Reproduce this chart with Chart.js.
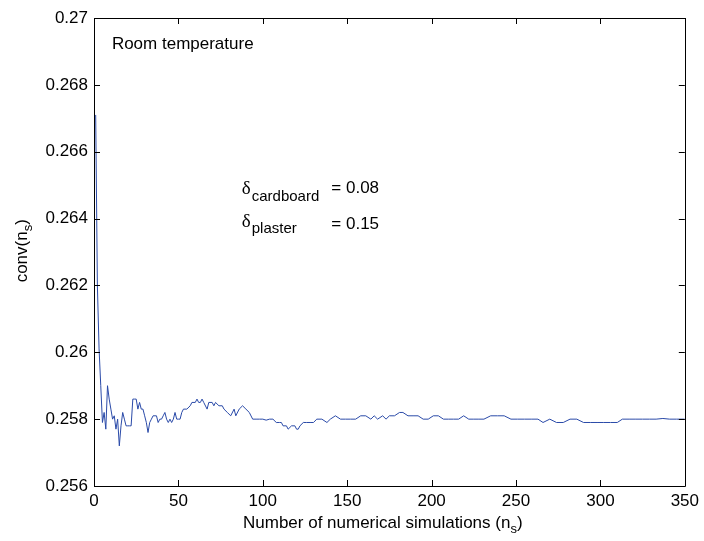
<!DOCTYPE html>
<html>
<head>
<meta charset="utf-8">
<script src="https://cdn.jsdelivr.net/npm/chart.js@4.4.0/dist/chart.umd.min.js"></script>
<style>
  html, body { margin: 0; padding: 0; background: #fff; }
  #wrap { width: 704px; height: 541px; }
</style>
</head>
<body>
<div id="wrap"><canvas id="chart" width="704" height="541"></canvas></div>
<script>
// number of simulations (x) and convergence value (y)
const simCounts = [
  1, 2, 3, 4, 5, 6, 7, 8, 9, 10, 11, 12, 13, 14, 15, 16, 17, 18, 19, 20,
  21, 22, 23, 24, 25, 26, 27, 28, 29, 30, 31, 32, 33, 34, 35, 37, 38, 39, 40, 41,
  42, 43, 44, 45, 46, 47, 48, 49, 50, 51, 52, 53, 55, 57, 58, 60, 61, 62, 63, 64,
  65, 67, 68, 70, 71, 72, 74, 76, 77, 79, 81, 83, 84, 86, 88, 90, 92, 94, 96, 98,
  100, 102, 104, 106, 108, 110, 111, 112, 114, 115, 117, 119, 120, 121, 122, 124, 126, 128, 130, 132,
  135, 138, 140, 143, 146, 149, 152, 155, 158, 161, 164, 166, 168, 171, 173, 175, 178, 181, 183, 186,
  189, 192, 195, 198, 201, 204, 207, 210, 213, 216, 219, 222, 225, 228, 231, 235, 239, 243, 247, 251,
  255, 259, 263, 266, 270, 274, 278, 282, 286, 290, 294, 298, 302, 306, 310, 313, 317, 321, 325, 329,
  333, 337, 341, 345, 350
];
const convValues = [
  0.2671, 0.2620, 0.2601, 0.2590, 0.2579, 0.2582, 0.2577, 0.2590, 0.2586, 0.2583,
  0.2580, 0.2581, 0.2577, 0.2580, 0.2572, 0.2578, 0.2582, 0.2580, 0.2578, 0.2578,
  0.2578, 0.2578, 0.2586, 0.2586, 0.2586, 0.2583, 0.2585, 0.2583, 0.2583, 0.2581,
  0.2579, 0.2576, 0.2579, 0.2580, 0.2581, 0.2581, 0.2579, 0.2580, 0.2580, 0.2581,
  0.2582, 0.2580, 0.2579, 0.2580, 0.2579, 0.2580, 0.2582, 0.2580, 0.2580, 0.2580,
  0.2582, 0.2583, 0.2583, 0.2584, 0.2585, 0.2585, 0.2586, 0.2585, 0.2585, 0.2586,
  0.2585, 0.2583, 0.2585, 0.2585, 0.2584, 0.2585, 0.2584, 0.2584, 0.2583, 0.2582,
  0.2581, 0.2583, 0.2581, 0.2583, 0.2584, 0.2583, 0.2582, 0.2580, 0.2580, 0.2580,
  0.2580, 0.25797, 0.2580, 0.2580, 0.2579, 0.2579, 0.2579, 0.2578, 0.2578, 0.2577,
  0.2578, 0.2578, 0.2577, 0.2577, 0.2578, 0.2579, 0.2579, 0.2579, 0.2579, 0.2580,
  0.2580, 0.2579, 0.2580, 0.2581, 0.2580, 0.2580, 0.2580, 0.2580, 0.2581, 0.2581,
  0.2580, 0.2581, 0.2580, 0.2581, 0.2580, 0.2581, 0.2581, 0.2582, 0.2582, 0.2581,
  0.2581, 0.2581, 0.2580, 0.2580, 0.2581, 0.2581, 0.2580, 0.2580, 0.2580, 0.2580,
  0.2581, 0.2580, 0.2580, 0.2580, 0.2580, 0.2581, 0.2581, 0.2581, 0.2580, 0.2580,
  0.2580, 0.2580, 0.2580, 0.2579, 0.2580, 0.2579, 0.2579, 0.2580, 0.2580, 0.2579,
  0.2579, 0.2579, 0.2579, 0.2579, 0.2579, 0.2580, 0.2580, 0.2580, 0.2580, 0.2580,
  0.2580, 0.25802, 0.2580, 0.2580, 0.2580
];

const xTicks = [0, 50, 100, 150, 200, 250, 300, 350];
const yTicks = [0.256, 0.258, 0.26, 0.262, 0.264, 0.266, 0.268, 0.27];
const yTickLabels = ['0.256', '0.258', '0.26', '0.262', '0.264', '0.266', '0.268', '0.27'];

const FONT = 'Liberation Sans, Arial, Helvetica, sans-serif';
const lineColor = '#2a4aa8';

// draws text with a subscript part, returns end x
function drawSub(ctx, x, y, main, sub, tail, size, subSize, drop) {
    ctx.font = size + 'px ' + FONT;
    ctx.fillText(main, x, y);
    x += ctx.measureText(main).width;
    ctx.font = subSize + 'px ' + FONT;
    ctx.fillText(sub, x, y + drop);
    x += ctx.measureText(sub).width;
    if (tail) {
        ctx.font = size + 'px ' + FONT;
        ctx.fillText(tail, x, y);
        x += ctx.measureText(tail).width;
    }
    return x;
}

const matlabFrame = {
    id: 'matlabFrame',
    afterDraw(chart) {
        const ctx = chart.ctx;
        const a = chart.chartArea;
        const xs = chart.scales.x;
        const ys = chart.scales.y;
        ctx.save();
        ctx.strokeStyle = '#000';
        ctx.lineWidth = 1;
        ctx.beginPath();
        ctx.rect(Math.round(a.left) + 0.5, Math.round(a.top) + 0.5, Math.round(a.right - a.left), Math.round(a.bottom - a.top));
        ctx.stroke();

        // inward ticks on all four sides
        const tl = 6;
        ctx.beginPath();
        xTicks.forEach(v => {
            const px = Math.round(xs.getPixelForValue(v)) + 0.5;
            ctx.moveTo(px, a.bottom); ctx.lineTo(px, a.bottom - tl);
            ctx.moveTo(px, a.top); ctx.lineTo(px, a.top + tl);
        });
        yTicks.forEach(v => {
            const py = Math.round(ys.getPixelForValue(v)) + 0.5;
            ctx.moveTo(a.left, py); ctx.lineTo(a.left + tl, py);
            ctx.moveTo(a.right, py); ctx.lineTo(a.right - tl, py);
        });
        ctx.stroke();

        ctx.fillStyle = '#000';
        ctx.textAlign = 'left';
        ctx.textBaseline = 'alphabetic';

        // annotations
        ctx.font = '17px ' + FONT;
        ctx.fillText('Room temperature', xs.getPixelForValue(10.6), ys.getPixelForValue(0.26907));

        const dx = xs.getPixelForValue(87.5);
        const eqx = xs.getPixelForValue(140.6);
        const y1 = ys.getPixelForValue(0.26473);
        const y2 = ys.getPixelForValue(0.26370);
        ctx.font = '19px Liberation Serif, DejaVu Serif, serif';
        ctx.fillText('δ', dx, y1);
        ctx.fillText('δ', dx, y2 - 2);
        ctx.font = '15px ' + FONT;
        ctx.fillText('cardboard', dx + 10, y1 + 7);
        ctx.fillText('plaster', dx + 10, y2 + 4);
        ctx.font = '17px ' + FONT;
        ctx.fillText('= 0.08', eqx, y1 - 1);
        ctx.fillText('= 0.15', eqx, y2);

        // x axis title
        drawSub(ctx, 243, 528, 'Number of numerical simulations (n', 's', ')', 17, 13, 5);

        // y axis title, rotated
        ctx.translate(27, 250);
        ctx.rotate(-Math.PI / 2);
        ctx.font = '17px ' + FONT;
        const w = ctx.measureText('conv(n').width + ctx.measureText(')').width + 8;
        drawSub(ctx, -w / 2, 0, 'conv(n', 's', ')', 17, 13, 5);
        ctx.restore();
    }
};

new Chart(document.getElementById('chart'), {
    type: 'line',
    data: {
        datasets: [{
            data: simCounts.map((n, i) => ({ x: n, y: convValues[i] })),
            borderColor: lineColor,
            borderWidth: 1,
            pointRadius: 0,
            tension: 0,
            fill: false
        }]
    },
    options: {
        responsive: false,
        animation: false,
        layout: { padding: { top: 18, right: 16, left: 0, bottom: 0 } },
        plugins: {
            legend: { display: false },
            tooltip: { enabled: false }
        },
        scales: {
            x: {
                type: 'linear',
                min: 0,
                max: 350,
                afterBuildTicks: s => { s.ticks = xTicks.map(v => ({ value: v })); },
                afterFit: s => { s.height = 55; },
                grid: { display: false, drawTicks: false },
                border: { display: false },
                ticks: {
                    color: '#000',
                    font: { family: FONT, size: 17 },
                    padding: 5,
                    maxRotation: 0,
                    autoSkip: false
                }
            },
            y: {
                type: 'linear',
                min: 0.256,
                max: 0.27,
                afterBuildTicks: s => { s.ticks = yTicks.map(v => ({ value: v })); },
                afterFit: s => { s.width = 94; },
                grid: { display: false, drawTicks: false },
                border: { display: false },
                ticks: {
                    color: '#000',
                    font: { family: FONT, size: 17 },
                    padding: 6,
                    autoSkip: false,
                    callback: (v, i) => yTickLabels[i]
                }
            }
        }
    },
    plugins: [matlabFrame]
});
</script>
</body>
</html>
